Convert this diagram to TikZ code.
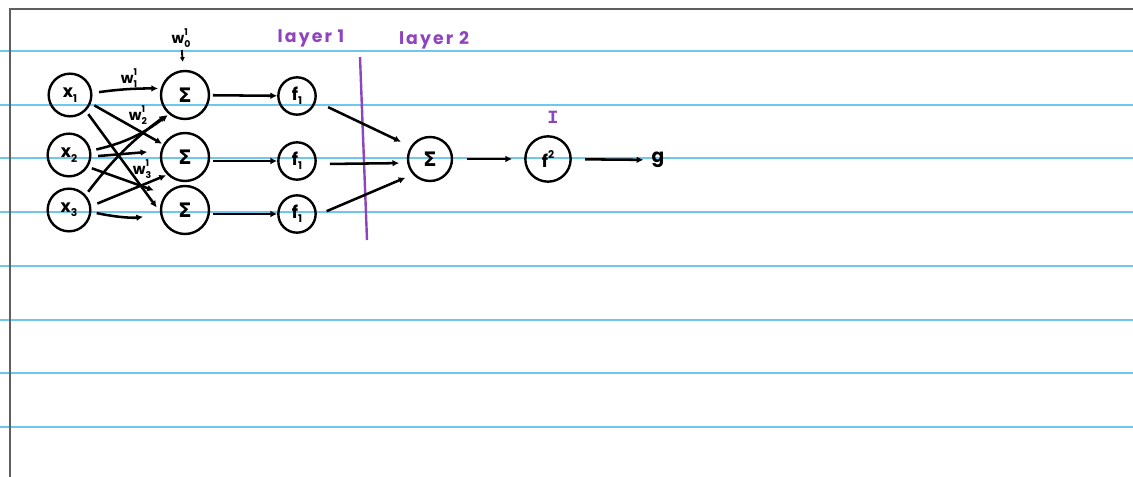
\documentclass[tikz,border=0pt]{standalone}
\usepackage{fontspec}
\setmainfont{Poppins}
\newfontfamily\symfont{DejaVu Sans}
\newfontfamily\monofont{Liberation Mono}
\usetikzlibrary{arrows.meta}
\definecolor{ruled}{RGB}{110,200,238}
\definecolor{framegray}{RGB}{95,95,95}
\definecolor{purp}{RGB}{142,68,190}
\newcommand{\lsub}[1]{\raisebox{-0.45ex}{\fontsize{8}{8}\selectfont #1}}
\newcommand{\wts}[1]{w\rlap{\raisebox{0.9ex}{\fontsize{7}{7}\selectfont 1}}\raisebox{-0.5ex}{\fontsize{7}{7}\selectfont #1}}
\tikzset{
  neuron/.style={circle,draw,line width=1.8pt,inner sep=0pt,font=\fontsize{13}{13}\selectfont\bfseries},
  sigma/.style={neuron,font=\fontsize{15}{15}\selectfont\symfont\bfseries},
  arr/.style={-{Latex[length=5pt,width=5pt]},line width=1.9pt},
  lbl/.style={inner sep=0pt,font=\fontsize{11}{11}\selectfont\bfseries},
  plbl/.style={inner sep=0pt,text=purp,font=\fontsize{13}{13}\selectfont\bfseries\addfontfeature{LetterSpace=12}}
}
\begin{document}
\begin{tikzpicture}[x=0.75pt,y=-0.75pt]
\useasboundingbox (0,0) rectangle (1133,477);
\foreach \yy in {51,105,158,212,266,320,373,427}
  \draw[ruled,line width=1.1pt] (0,\yy) -- (1133,\yy);
\draw[framegray,line width=1.5pt] (10,477) -- (10,9) -- (1133,9);

% inputs
\node[neuron,minimum size=32pt] (x1) at (70,95) {x\lsub{1}};
\node[neuron,minimum size=32pt] (x2) at (69,155) {x\lsub{2}};
\node[neuron,minimum size=32pt] (x3) at (69,210) {x\lsub{3}};
% sums
\node[sigma,minimum size=36pt] (s1) at (185,95) {Σ};
\node[sigma,minimum size=36pt] (s2) at (185,157) {Σ};
\node[sigma,minimum size=36pt] (s3) at (185,210) {Σ};
% activations
\node[neuron,minimum size=28pt] (f1) at (297,96) {f\lsub{1}};
\node[neuron,minimum size=28pt] (f2) at (297,161) {f\lsub{1}};
\node[neuron,minimum size=28pt] (f3) at (297,214) {f\lsub{1}};
% layer 2
\node[sigma,minimum size=33pt] (s4) at (430,159) {Σ};
\node[neuron,minimum size=34pt] (f4) at (548,159) {f\raisebox{0.9ex}{\fontsize{8}{8}\selectfont 2}};
\node[inner sep=0pt,font=\fontsize{14}{14}\selectfont\bfseries] (g) at (658,160) {g};

% labels
\node[lbl] (w0) at (181,38) {\wts{0}};
\node[lbl] (w1) at (129,78) {\wts{1}};
\node[lbl] (w2) at (138,115) {\wts{2}};
\node[lbl] (w3) at (142,169) {\wts{3}};
\node[plbl] (l1) at (311,38) {layer 1};
\node[plbl] (l2) at (434,40) {layer 2};
\node[inner sep=0pt,text=purp,font=\fontsize{14}{14}\selectfont\monofont\bfseries] (id) at (553,117) {I};

% purple divider
\coordinate (pa) at (360,57);
\coordinate (pb) at (367,240);
\draw[purp,line width=1.8pt] (pa) -- (pb);

% bias arrow
\draw[-{Latex[length=3.5pt,width=4pt]},line width=1.4pt,shorten <=2pt,shorten >=6pt] (w0) -- (s1);

% input connections
\draw[arr,shorten <=5pt,shorten >=2pt] (x1.5) to[bend left=4] (s1.165);
\draw[arr,shorten <=3pt,shorten >=1pt] (x1.-22) -- (s2.150);
\draw[arr,shorten <=3pt,shorten >=4pt] (x1.-45) -- (s3.184);
\draw[arr,shorten <=4pt,shorten >=1pt] (x2.11) to[bend right=12] (s1.230);
\draw[arr,shorten <=5pt,shorten >=10pt] (x2.-4) -- (s2.166);
\draw[arr,shorten <=3pt,shorten >=9pt] (x2.-32) -- (s3.142);
\draw[arr,shorten <=3pt,shorten >=2pt] (x3.42) to[bend left=8] (s1.228);
\draw[arr,shorten <=5pt,shorten >=1pt] (x3.10) -- (s2.225);
\draw[arr,shorten <=4pt,shorten >=13pt] (x3.-5) to[bend right=10] (s3.190);

\draw[arr,shorten <=2pt,shorten >=0pt] (s1) -- (f1);
\draw[arr,shorten <=2pt,shorten >=0pt] (s2.east |- f2) -- (f2);
\draw[arr,shorten <=2pt,shorten >=0pt] (s3.east |- f3) -- (f3);

\draw[arr,shorten <=10pt,shorten >=8pt] (f1.-16) -- (s4.147);
\draw[arr,shorten <=10pt,shorten >=6pt] (f2.-9) -- (s4.190);
\draw[arr,shorten <=8pt,shorten >=6pt] (f3.-4) -- (s4.222);

\draw[arr,shorten <=10pt,shorten >=9pt] (s4) -- (f4);
\draw[arr,shorten <=10pt,shorten >=6pt] (f4) -- (g);
\end{tikzpicture}
\end{document}
